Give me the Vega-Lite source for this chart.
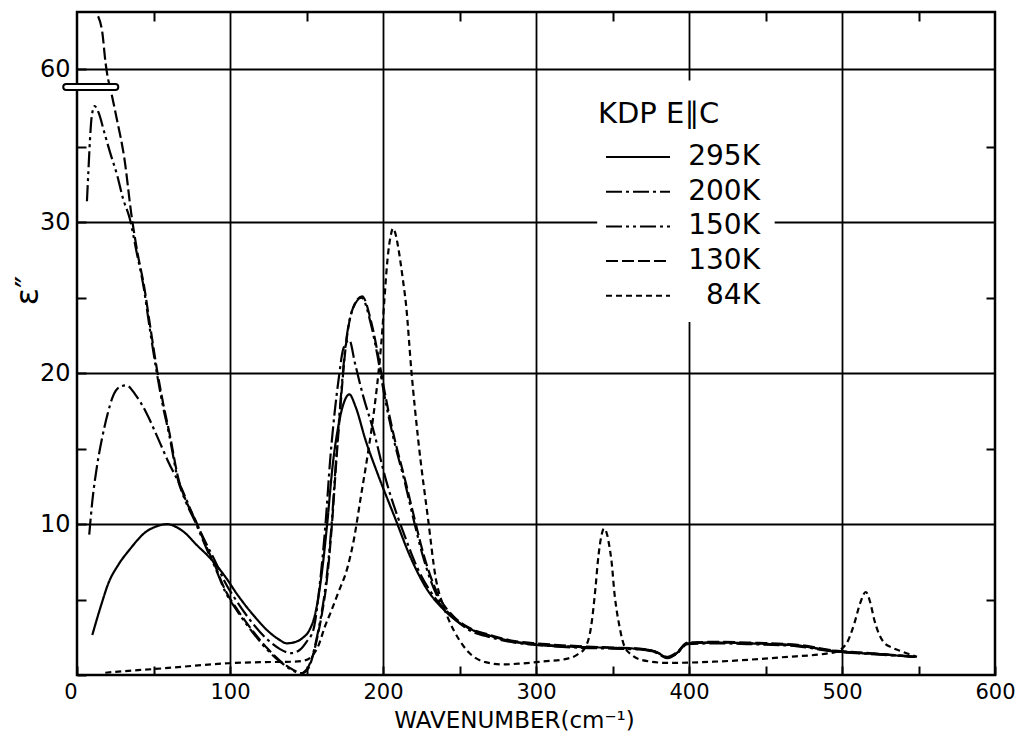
{
"$schema":"https://vega.github.io/schema/vega-lite/v6.json",
"width":918,"height":663,
"autosize":{"type":"none"},
"padding":{"left":77,"top":12,"right":33,"bottom":61},
"background":"white",
"config":{"view":{"stroke":"black","strokeWidth":2.5},"font":"DejaVu Sans"},
"resolve":{"axis":{"x":"independent","y":"independent"}},
"datasets":{"curves":[
{"T":"295K","wn":10,"eps":2.65},{"T":"295K","wn":13,"eps":3.7},{"T":"295K","wn":16,"eps":4.7},{"T":"295K","wn":20.6,"eps":6.1},{"T":"295K","wn":27,"eps":7.3},{"T":"295K","wn":34.3,"eps":8.3},{"T":"295K","wn":45.2,"eps":9.5},{"T":"295K","wn":52,"eps":9.85},{"T":"295K","wn":58.9,"eps":10.0},{"T":"295K","wn":64,"eps":9.85},{"T":"295K","wn":69.6,"eps":9.5},{"T":"295K","wn":78.4,"eps":8.6},{"T":"295K","wn":87,"eps":7.75},{"T":"295K","wn":97,"eps":6.5},{"T":"295K","wn":105,"eps":5.3},{"T":"295K","wn":115,"eps":4.0},{"T":"295K","wn":125,"eps":2.9},{"T":"295K","wn":132,"eps":2.35},{"T":"295K","wn":137,"eps":2.1},{"T":"295K","wn":143,"eps":2.2},{"T":"295K","wn":148,"eps":2.5},{"T":"295K","wn":151.5,"eps":2.9},{"T":"295K","wn":156,"eps":4.2},{"T":"295K","wn":160,"eps":6.75},{"T":"295K","wn":163.6,"eps":10.1},{"T":"295K","wn":167,"eps":13.8},{"T":"295K","wn":171,"eps":16.6},{"T":"295K","wn":175,"eps":18.2},{"T":"295K","wn":178,"eps":18.6},{"T":"295K","wn":182,"eps":17.8},{"T":"295K","wn":188.5,"eps":15.6},{"T":"295K","wn":197,"eps":13.2},{"T":"295K","wn":207.5,"eps":10.5},{"T":"295K","wn":218,"eps":7.8},{"T":"295K","wn":228,"eps":5.8},{"T":"295K","wn":240,"eps":4.3},{"T":"295K","wn":256,"eps":3.1},{"T":"295K","wn":270,"eps":2.6},{"T":"295K","wn":286,"eps":2.2},{"T":"295K","wn":300,"eps":2.0},{"T":"295K","wn":330,"eps":1.85},{"T":"295K","wn":350,"eps":1.8},{"T":"295K","wn":369,"eps":1.72},{"T":"295K","wn":378,"eps":1.55},{"T":"295K","wn":386,"eps":1.17},{"T":"295K","wn":392,"eps":1.45},{"T":"295K","wn":399,"eps":2.1},{"T":"295K","wn":420,"eps":2.15},{"T":"295K","wn":438,"eps":2.1},{"T":"295K","wn":471,"eps":1.95},{"T":"295K","wn":493,"eps":1.6},{"T":"295K","wn":525,"eps":1.37},{"T":"295K","wn":548,"eps":1.2},
{"T":"200K","wn":8,"eps":9.3},{"T":"200K","wn":10,"eps":11.5},{"T":"200K","wn":13,"eps":13.8},{"T":"200K","wn":16.6,"eps":15.8},{"T":"200K","wn":20,"eps":17.3},{"T":"200K","wn":23.6,"eps":18.5},{"T":"200K","wn":28,"eps":19.1},{"T":"200K","wn":32.3,"eps":19.2},{"T":"200K","wn":38,"eps":18.6},{"T":"200K","wn":45.2,"eps":17.4},{"T":"200K","wn":52,"eps":15.9},{"T":"200K","wn":59.8,"eps":14.1},{"T":"200K","wn":68.2,"eps":12.4},{"T":"200K","wn":77,"eps":10.3},{"T":"200K","wn":85,"eps":8.6},{"T":"200K","wn":90,"eps":7.6},{"T":"200K","wn":97,"eps":6.1},{"T":"200K","wn":105,"eps":4.8},{"T":"200K","wn":115,"eps":3.4},{"T":"200K","wn":125,"eps":2.3},{"T":"200K","wn":133,"eps":1.7},{"T":"200K","wn":140,"eps":1.45},{"T":"200K","wn":146,"eps":1.7},{"T":"200K","wn":150,"eps":2.2},{"T":"200K","wn":154.5,"eps":3.0},{"T":"200K","wn":159,"eps":6.3},{"T":"200K","wn":162.5,"eps":10.1},{"T":"200K","wn":165.5,"eps":14.3},{"T":"200K","wn":168.5,"eps":17.5},{"T":"200K","wn":171,"eps":19.6},{"T":"200K","wn":174,"eps":21.6},{"T":"200K","wn":178,"eps":22.2},{"T":"200K","wn":181.6,"eps":20.7},{"T":"200K","wn":187,"eps":18.5},{"T":"200K","wn":193.5,"eps":16.3},{"T":"200K","wn":202,"eps":12.9},{"T":"200K","wn":215,"eps":9.0},{"T":"200K","wn":222,"eps":7.2},{"T":"200K","wn":230,"eps":5.7},{"T":"200K","wn":240,"eps":4.4},{"T":"200K","wn":256,"eps":3.0},{"T":"200K","wn":270,"eps":2.5},{"T":"200K","wn":286,"eps":2.15},{"T":"200K","wn":300,"eps":2.0},{"T":"200K","wn":330,"eps":1.8},{"T":"200K","wn":350,"eps":1.75},{"T":"200K","wn":369,"eps":1.68},{"T":"200K","wn":378,"eps":1.5},{"T":"200K","wn":386,"eps":1.12},{"T":"200K","wn":392,"eps":1.4},{"T":"200K","wn":399,"eps":2.05},{"T":"200K","wn":420,"eps":2.1},{"T":"200K","wn":438,"eps":2.05},{"T":"200K","wn":471,"eps":1.9},{"T":"200K","wn":493,"eps":1.58},{"T":"200K","wn":525,"eps":1.35},{"T":"200K","wn":548,"eps":1.2},
{"T":"150K","wn":6.5,"eps":31.4},{"T":"150K","wn":7.5,"eps":33.5},{"T":"150K","wn":8.5,"eps":35.5},{"T":"150K","wn":9.6,"eps":37.0},{"T":"150K","wn":11.5,"eps":37.7},{"T":"150K","wn":14,"eps":37.3},{"T":"150K","wn":18,"eps":35.9},{"T":"150K","wn":22,"eps":34.5},{"T":"150K","wn":26.3,"eps":33.1},{"T":"150K","wn":30,"eps":31.6},{"T":"150K","wn":34.6,"eps":30.2},{"T":"150K","wn":39,"eps":28.0},{"T":"150K","wn":43.4,"eps":25.8},{"T":"150K","wn":47.5,"eps":23.0},{"T":"150K","wn":52.2,"eps":20.0},{"T":"150K","wn":56,"eps":17.9},{"T":"150K","wn":60.1,"eps":16.0},{"T":"150K","wn":66.1,"eps":12.9},{"T":"150K","wn":71,"eps":11.5},{"T":"150K","wn":77,"eps":10.2},{"T":"150K","wn":85,"eps":8.3},{"T":"150K","wn":90,"eps":7.2},{"T":"150K","wn":97,"eps":5.5},{"T":"150K","wn":105,"eps":4.2},{"T":"150K","wn":115,"eps":2.8},{"T":"150K","wn":125,"eps":1.6},{"T":"150K","wn":135,"eps":0.7},{"T":"150K","wn":142,"eps":0.25},{"T":"150K","wn":146,"eps":0.1},{"T":"150K","wn":150,"eps":0.35},{"T":"150K","wn":154,"eps":1.3},{"T":"150K","wn":157,"eps":2.6},{"T":"150K","wn":160,"eps":4.2},{"T":"150K","wn":162.5,"eps":5.9},{"T":"150K","wn":166.5,"eps":10.1},{"T":"150K","wn":169,"eps":13.8},{"T":"150K","wn":171.5,"eps":17.2},{"T":"150K","wn":175.5,"eps":21.8},{"T":"150K","wn":180,"eps":24.2},{"T":"150K","wn":186,"eps":25.0},{"T":"150K","wn":192,"eps":23.3},{"T":"150K","wn":196.5,"eps":21.1},{"T":"150K","wn":200.6,"eps":18.7},{"T":"150K","wn":206.6,"eps":15.8},{"T":"150K","wn":214.7,"eps":12.6},{"T":"150K","wn":220,"eps":10.3},{"T":"150K","wn":226,"eps":7.9},{"T":"150K","wn":236,"eps":5.1},{"T":"150K","wn":246,"eps":3.8},{"T":"150K","wn":256,"eps":3.1},{"T":"150K","wn":270,"eps":2.6},{"T":"150K","wn":286,"eps":2.2},{"T":"150K","wn":300,"eps":2.05},{"T":"150K","wn":330,"eps":1.85},{"T":"150K","wn":350,"eps":1.78},{"T":"150K","wn":369,"eps":1.7},{"T":"150K","wn":378,"eps":1.52},{"T":"150K","wn":386,"eps":1.15},{"T":"150K","wn":392,"eps":1.45},{"T":"150K","wn":399,"eps":2.1},{"T":"150K","wn":420,"eps":2.15},{"T":"150K","wn":438,"eps":2.1},{"T":"150K","wn":471,"eps":1.95},{"T":"150K","wn":493,"eps":1.62},{"T":"150K","wn":525,"eps":1.38},{"T":"150K","wn":548,"eps":1.2},
{"T":"130K","wn":13.8,"eps":63.7},{"T":"130K","wn":16.5,"eps":62.6},{"T":"130K","wn":18.7,"eps":60.4},{"T":"130K","wn":20.3,"eps":59.3},{"T":"130K","wn":21.5,"eps":39.0},{"T":"130K","wn":25.7,"eps":37.0},{"T":"130K","wn":31,"eps":34.2},{"T":"130K","wn":35.7,"eps":30.4},{"T":"130K","wn":39.5,"eps":28.0},{"T":"130K","wn":43.8,"eps":25.8},{"T":"130K","wn":48,"eps":23.0},{"T":"130K","wn":52.5,"eps":20.1},{"T":"130K","wn":56.5,"eps":17.9},{"T":"130K","wn":60.5,"eps":16.0},{"T":"130K","wn":66.3,"eps":13.0},{"T":"130K","wn":71,"eps":11.6},{"T":"130K","wn":77,"eps":10.35},{"T":"130K","wn":85,"eps":8.4},{"T":"130K","wn":90,"eps":7.3},{"T":"130K","wn":97,"eps":5.6},{"T":"130K","wn":105,"eps":4.3},{"T":"130K","wn":115,"eps":2.9},{"T":"130K","wn":125,"eps":1.7},{"T":"130K","wn":135,"eps":0.75},{"T":"130K","wn":142,"eps":0.3},{"T":"130K","wn":147,"eps":0.12},{"T":"130K","wn":151,"eps":0.4},{"T":"130K","wn":154.5,"eps":1.4},{"T":"130K","wn":157.5,"eps":2.7},{"T":"130K","wn":160.5,"eps":4.3},{"T":"130K","wn":163,"eps":6.0},{"T":"130K","wn":166.8,"eps":10.2},{"T":"130K","wn":169.3,"eps":13.9},{"T":"130K","wn":171.8,"eps":17.3},{"T":"130K","wn":175.8,"eps":21.9},{"T":"130K","wn":180.3,"eps":24.3},{"T":"130K","wn":186.3,"eps":25.1},{"T":"130K","wn":192.3,"eps":23.4},{"T":"130K","wn":196.8,"eps":21.2},{"T":"130K","wn":201,"eps":18.8},{"T":"130K","wn":207,"eps":15.9},{"T":"130K","wn":215,"eps":12.7},{"T":"130K","wn":220.5,"eps":10.4},{"T":"130K","wn":226.5,"eps":8.0},{"T":"130K","wn":236.5,"eps":5.2},{"T":"130K","wn":246,"eps":3.9},{"T":"130K","wn":256,"eps":3.15},{"T":"130K","wn":270,"eps":2.65},{"T":"130K","wn":286,"eps":2.25},{"T":"130K","wn":300,"eps":2.1},{"T":"130K","wn":330,"eps":1.9},{"T":"130K","wn":350,"eps":1.82},{"T":"130K","wn":369,"eps":1.74},{"T":"130K","wn":378,"eps":1.56},{"T":"130K","wn":386,"eps":1.2},{"T":"130K","wn":392,"eps":1.5},{"T":"130K","wn":399,"eps":2.15},{"T":"130K","wn":420,"eps":2.2},{"T":"130K","wn":438,"eps":2.15},{"T":"130K","wn":471,"eps":2.0},{"T":"130K","wn":493,"eps":1.65},{"T":"130K","wn":525,"eps":1.4},{"T":"130K","wn":548,"eps":1.22},
{"T":"84K","wn":18.5,"eps":0.15},{"T":"84K","wn":30,"eps":0.25},{"T":"84K","wn":51,"eps":0.4},{"T":"84K","wn":75,"eps":0.6},{"T":"84K","wn":99,"eps":0.78},{"T":"84K","wn":120,"eps":0.85},{"T":"84K","wn":141,"eps":0.88},{"T":"84K","wn":148,"eps":0.95},{"T":"84K","wn":153,"eps":1.2},{"T":"84K","wn":158,"eps":2.0},{"T":"84K","wn":162,"eps":3.2},{"T":"84K","wn":166,"eps":4.2},{"T":"84K","wn":170.5,"eps":5.4},{"T":"84K","wn":177,"eps":7.2},{"T":"84K","wn":181,"eps":9.0},{"T":"84K","wn":185.5,"eps":11.8},{"T":"84K","wn":190,"eps":14.6},{"T":"84K","wn":194,"eps":17.4},{"T":"84K","wn":197,"eps":20.0},{"T":"84K","wn":199.6,"eps":22.9},{"T":"84K","wn":201,"eps":25.0},{"T":"84K","wn":203,"eps":27.6},{"T":"84K","wn":205,"eps":29.1},{"T":"84K","wn":206.5,"eps":29.6},{"T":"84K","wn":208,"eps":29.3},{"T":"84K","wn":210,"eps":28.3},{"T":"84K","wn":213,"eps":26.2},{"T":"84K","wn":215,"eps":24.6},{"T":"84K","wn":218.6,"eps":20.1},{"T":"84K","wn":223,"eps":15.6},{"T":"84K","wn":229.5,"eps":10.3},{"T":"84K","wn":234.5,"eps":6.4},{"T":"84K","wn":239,"eps":4.7},{"T":"84K","wn":243,"eps":3.65},{"T":"84K","wn":250,"eps":2.3},{"T":"84K","wn":256,"eps":1.5},{"T":"84K","wn":267,"eps":0.85},{"T":"84K","wn":278,"eps":0.7},{"T":"84K","wn":290,"eps":0.76},{"T":"84K","wn":305,"eps":0.9},{"T":"84K","wn":319,"eps":1.05},{"T":"84K","wn":327,"eps":1.35},{"T":"84K","wn":332,"eps":1.8},{"T":"84K","wn":336,"eps":3.2},{"T":"84K","wn":339,"eps":5.9},{"T":"84K","wn":340.5,"eps":7.6},{"T":"84K","wn":342.5,"eps":9.1},{"T":"84K","wn":344.5,"eps":9.7},{"T":"84K","wn":346.5,"eps":9.3},{"T":"84K","wn":348,"eps":8.5},{"T":"84K","wn":349.3,"eps":7.6},{"T":"84K","wn":351.3,"eps":5.4},{"T":"84K","wn":354.6,"eps":3.2},{"T":"84K","wn":357.8,"eps":1.9},{"T":"84K","wn":363,"eps":1.3},{"T":"84K","wn":369,"eps":1.0},{"T":"84K","wn":386,"eps":0.8},{"T":"84K","wn":416,"eps":0.88},{"T":"84K","wn":460,"eps":1.17},{"T":"84K","wn":495,"eps":1.5},{"T":"84K","wn":503,"eps":2.1},{"T":"84K","wn":508,"eps":3.4},{"T":"84K","wn":512,"eps":4.8},{"T":"84K","wn":515.5,"eps":5.5},{"T":"84K","wn":518.5,"eps":4.8},{"T":"84K","wn":521,"eps":3.7},{"T":"84K","wn":527,"eps":2.2},{"T":"84K","wn":533,"eps":1.8},{"T":"84K","wn":538,"eps":1.6},{"T":"84K","wn":549,"eps":1.2}
]},
"layer":[
{
"data":{"values":[{}]},
"mark":{"type":"rect","fill":"white","strokeWidth":0},
"encoding":{
"x":{"datum":340,"type":"quantitative","axis":{"orient":"top","values":[50,150,250,350,450,550],"labels":false,"tickSize":-9,"tickWidth":2,"tickColor":"black","grid":false,"domain":false,"title":null}},
"x2":{"datum":456},
"y":{"datum":23.4,"type":"quantitative","axis":{"orient":"right","values":[5,15,25,35],"labels":false,"tickSize":-9,"tickWidth":2,"tickColor":"black","grid":false,"domain":false,"title":null}},
"y2":{"datum":59.2}
}
},
{
"data":{"name":"curves"},
"mark":{"type":"line","color":"black","strokeWidth":2.2,"interpolate":"monotone","clip":true},
"encoding":{
"x":{"field":"wn","type":"quantitative","scale":{"domain":[0,600],"nice":false,"zero":false},
"axis":{"orient":"bottom","values":[0,50,100,150,200,250,300,350,400,450,500,550,600],
"labelExpr":"datum.value % 100 === 0 ? datum.label : ''",
"labelAlign":{"condition":{"test":"datum.value === 0","value":"right"},"value":"center"},
"labelFlush":false,"labelOverlap":false,
"labelFont":"DejaVu Sans","labelFontSize":21,"labelColor":"black","labelPadding":15,
"tickSize":-9,"tickWidth":2,"tickColor":"black",
"grid":true,"gridColor":"black","gridWidth":1.8,
"gridOpacity":{"condition":{"test":"datum.value % 100 === 0 && datum.value > 0 && datum.value < 600","value":1},"value":0},
"domain":false,
"title":"WAVENUMBER(cm⁻¹)","titleFont":"DejaVu Sans","titleFontSize":23,"titleFontWeight":"normal","titleColor":"black",
"titleX":437,"titleY":52,"titleAlign":"center","titleBaseline":"alphabetic"}},
"y":{"field":"eps","type":"quantitative","scale":{"domain":[0,39.2,59.2,64],"range":[663,71.5,68.4,0],"nice":false,"zero":false},
"axis":{"orient":"left","values":[0,5,10,15,20,25,30,35,60],
"labelExpr":"datum.value % 10 === 0 && datum.value > 0 ? datum.label : ''",
"labelFlush":false,"labelOverlap":false,
"labelFont":"DejaVu Sans","labelFontSize":24,"labelColor":"black","labelPadding":16,
"tickSize":-9,"tickWidth":2,"tickColor":"black",
"grid":true,"gridColor":"black","gridWidth":1.8,
"gridOpacity":{"condition":{"test":"datum.value % 10 === 0 && datum.value > 0","value":1},"value":0},
"domain":false,
"title":"ε″","titleFont":"DejaVu Sans","titleFontSize":32,"titleFontWeight":"normal","titleColor":"black",
"titleAngle":-90,"titleX":-50,"titleY":278,"titleAlign":"center","titleBaseline":"middle"}},
"strokeDash":{"field":"T","type":"nominal",
"scale":{"domain":["295K","200K","150K","130K","84K"],"range":[[1,0],[16,4,3,4],[16,4,3,4,3,4],[12,4],[6,4]]},
"legend":{"orient":"none","legendX":521,"legendY":88,
"title":"KDP   E∥C","titleFont":"DejaVu Sans","titleFontSize":29,"titleFontWeight":"normal","titleColor":"black","titlePadding":13,"titleLimit":400,
"symbolType":"stroke","symbolSize":4096,"symbolStrokeWidth":2,"symbolStrokeColor":"black","symbolOffset":7,
"clipHeight":30,"rowPadding":4.7,
"labelFont":"DejaVu Sans","labelFontSize":28,"labelColor":"black","labelAlign":"right","labelOffset":89,"labelLimit":0,"labelBaseline":"middle"}}
}
},
{
"data":{"values":[{}]},
"mark":{"type":"rect","fill":"white","stroke":"black","strokeWidth":2,"cornerRadius":3},
"encoding":{
"x":{"datum":-9,"type":"quantitative","axis":null},
"x2":{"datum":27},
"y":{"datum":38.77,"type":"quantitative","axis":null},
"y2":{"datum":39.17}
}
}
]
}
